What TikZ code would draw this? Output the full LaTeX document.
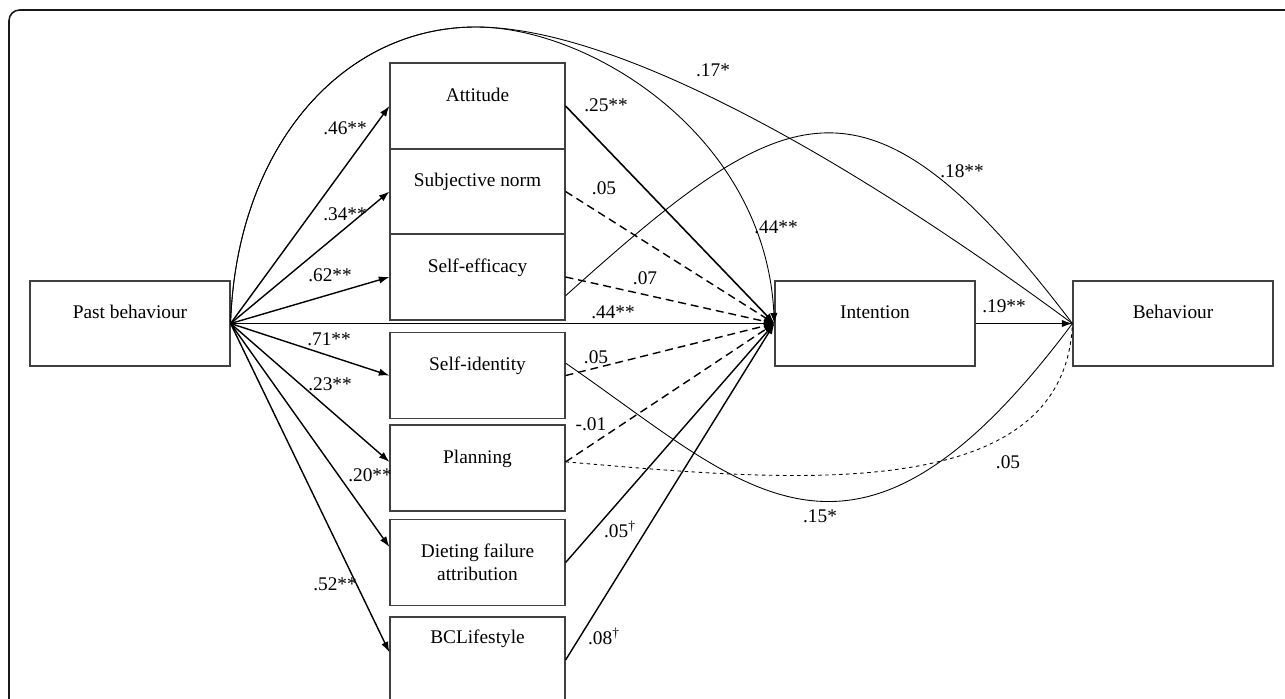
\documentclass[tikz,border=0pt]{standalone}
\usepackage{fontspec}
\setmainfont{Liberation Serif}
\usetikzlibrary{arrows.meta}

\begin{document}
\begin{tikzpicture}[x=0.02cm,y=-0.02cm,
    main_node/.style={rectangle,draw=black!75,line width=0.7pt,inner sep=2pt,align=center,minimum width=3.5cm,minimum height=1.72cm,font=\fontsize{11}{13}\selectfont},
    wide_node/.style={main_node,minimum width=4cm,minimum height=1.7cm},
    coef_node/.style={inner sep=0pt,font=\fontsize{11}{13}\selectfont},
    path_arrow/.style={-{Latex[length=6pt,width=4.2pt]},line width=0.8pt},
    path_dash/.style={path_arrow,dash pattern=on 4.5pt off 2.8pt},
    path_curve/.style={line width=0.5pt}]
    \useasboundingbox (0,0) rectangle (1285,698);
    \draw[black!90,line width=0.9pt,rounded corners=6pt] (9,10) rectangle (1330,740);

    \node[wide_node] (1) at (130,323.5) {Past behaviour\\~};
    \node[main_node] (2) at (477.5,106) {Attitude\\~};
    \node[main_node] (3) at (477.5,191.5) {Subjective norm\\~};
    \node[main_node] (4) at (477.5,277) {Self-efficacy\\~};
    \node[main_node] (5) at (477.5,375.5) {Self-identity\\~};
    \node[main_node] (6) at (477.5,468) {Planning\\~};
    \node[main_node] (7) at (477.5,562.5) {Dieting failure\\attribution};
    \node[main_node] (8) at (477.5,660) {BCLifestyle\\~\\~};
    \node[wide_node] (9) at (875,323.5) {Intention\\~};
    \node[wide_node] (10) at (1173,323.5) {Behaviour\\~};

    \draw[path_arrow] (1.east) -- (2.west);
    \draw[path_arrow] (1.east) -- (3.west);
    \draw[path_arrow] (1.east) -- (4.west);
    \draw[path_arrow] (1.east) -- (9.west);
    \draw[path_arrow] (1.east) -- (5.west);
    \draw[path_arrow] (1.east) -- (6.176);
    \draw[path_arrow] (1.east) -- (7.170);
    \draw[path_arrow] (1.east) -- (8.175);

    \draw[path_arrow,line width=0.9pt] (2.east) -- (9.west);
    \draw[path_dash] (3.east) -- (9.west);
    \draw[path_dash] (4.east) -- (9.west);
    \draw[path_dash] (5.east) -- (9.west);
    \draw[path_dash] (6.4) -- (9.west);
    \draw[path_arrow] (7.east) -- (9.west);
    \draw[path_arrow] (8.east) -- (9.west);
    \draw[path_arrow] (9.east) -- (10.west);

    \coordinate (top) at (476,27);
    \draw[path_curve,-{Latex[length=6pt,width=4.2pt]}] (1.east) .. controls (236,150) and (340,27) .. (top) .. controls (590,27) and (765,135) .. (9.west);
    \draw[path_curve] (1.east) .. controls (236,150) and (340,27) .. (top) .. controls (610,27) and (830,145) .. (10.west);
    \draw[path_curve] (4.348) .. controls (788,96) and (866,52) .. (10.west);
    \draw[path_curve] (5.8) .. controls (747,488) and (854,616) .. (10.west);
    \draw[path_curve,dash pattern=on 2pt off 2pt] (6.4) .. controls (780,480) and (1065,510) .. (10.west);

    \node[coef_node] (w12) at (345,128) {.46**};
    \node[coef_node] (w13) at (345,214) {.34**};
    \node[coef_node] (w14) at (330,275) {.62**};
    \node[coef_node] (w15) at (329,339) {.71**};
    \node[coef_node] (w16) at (330,384) {.23**};
    \node[coef_node] (w17) at (370,475) {.20**};
    \node[coef_node] (w18) at (335,584) {.52**};
    \node[coef_node] (w19) at (613,312) {.44**};
    \node[coef_node] (w29) at (606,105) {.25**};
    \node[coef_node] (w39) at (604,188) {.05};
    \node[coef_node] (w49) at (645,278) {.07};
    \node[coef_node] (w59) at (596,357) {.05};
    \node[coef_node] (w69) at (591,424) {-.01};
    \node[coef_node] (w79) at (620,529) {.05\textsuperscript{\textdagger}};
    \node[coef_node] (w89) at (604,636) {.08\textsuperscript{\textdagger}};
    \node[coef_node] (w19c) at (776,227) {.44**};
    \node[coef_node] (w110) at (713,70) {.17*};
    \node[coef_node] (w410) at (962,171) {.18**};
    \node[coef_node] (w910) at (1004,306) {.19**};
    \node[coef_node] (w510) at (820,516) {.15*};
    \node[coef_node] (w610) at (1008,462) {.05};
\end{tikzpicture}
\end{document}
